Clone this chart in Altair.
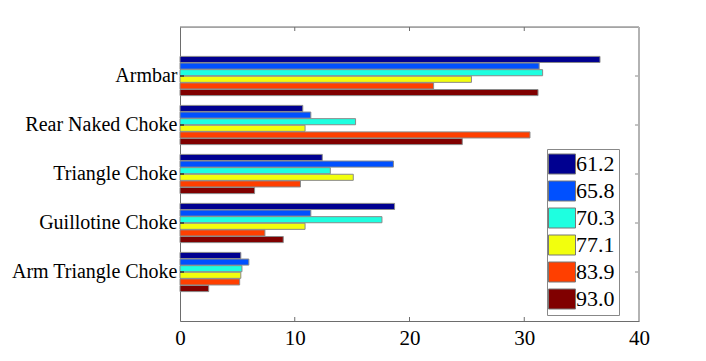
import altair as alt
import pandas as pd

categories = ["Armbar", "Rear Naked Choke", "Triangle Choke", "Guillotine Choke", "Arm Triangle Choke"]
series = ["61.2", "65.8", "70.3", "77.1", "83.9", "93.0"]
colors = ["#000090", "#0050FF", "#1EFFE0", "#F2FF0D", "#FF3F00", "#800000"]

v_612 = [36.6, 10.7, 12.4, 18.7, 5.3]
v_658 = [31.3, 11.4, 18.6, 11.4, 6.0]
v_703 = [31.6, 15.3, 13.1, 17.6, 5.4]
v_771 = [25.4, 10.9, 15.1, 10.9, 5.3]
v_839 = [22.1, 30.5, 10.5, 7.4, 5.2]
v_930 = [31.2, 24.6, 6.5, 9.0, 2.5]

x_ticks = [0, 10, 20, 30, 40]

all_vals = [v_612, v_658, v_703, v_771, v_839, v_930]
rows = []
for s, vals in zip(series, all_vals):
    for c, v in zip(categories, vals):
        rows.append({"cat": c, "series": s, "value": v})
df = pd.DataFrame(rows)
cat_df = pd.DataFrame({"cat": categories})
tick_df = pd.DataFrame({"t": x_ticks[1:-1]})

FONT = "'Times New Roman', 'Liberation Serif', Times, serif"
W, H = 459, 294

yscale = alt.Scale(domain=categories, paddingInner=0.2, paddingOuter=0.6)
xscale = alt.Scale(domain=[0, 40], nice=False)

bars = alt.Chart(df).mark_bar(stroke="#8a8a8a", strokeWidth=1).encode(
    x=alt.X("value:Q", scale=xscale,
            axis=alt.Axis(values=x_ticks, title=None, ticks=False, grid=False,
                          labelFont=FONT, labelFontSize=21, labelColor="black",
                          labelPadding=6, domainColor="#6d6d6d", labelFlush=False)),
    y=alt.Y("cat:N", scale=yscale, sort=categories,
            axis=alt.Axis(title=None, ticks=False, labelFont=FONT, labelFontSize=20,
                          labelColor="black", labelPadding=3, domainColor="#6d6d6d",
                          labelLimit=300)),
    yOffset=alt.YOffset("series:N", sort=series,
                        scale=alt.Scale(paddingInner=0.08, paddingOuter=0)),
    color=alt.Color("series:N", sort=series,
                    scale=alt.Scale(domain=series, range=colors),
                    legend=alt.Legend(title=None, orient="none", legendX=367, legendY=122,
                                      strokeColor="#888888", fillColor="white", padding=4,
                                      symbolType="M-1.35,-1L1.35,-1L1.35,1L-1.35,1Z",
                                      symbolSize=400, symbolStrokeColor="#777777",
                                      symbolStrokeWidth=1, symbolOpacity=1,
                                      labelFont=FONT, labelFontSize=22, labelColor="black",
                                      labelExpr="datum.label + '\u00a0\u00a0'",
                                      labelOffset=3, rowPadding=3, labelLimit=200)),
)

left_ticks = alt.Chart(cat_df).mark_rule(color="black", strokeWidth=1).encode(
    y=alt.Y("cat:N", scale=yscale, sort=categories, bandPosition=0.5),
    x=alt.value(0), x2=alt.value(4))
right_ticks = alt.Chart(cat_df).mark_rule(color="#8a8a8a", strokeWidth=1).encode(
    y=alt.Y("cat:N", scale=yscale, sort=categories, bandPosition=0.5),
    x=alt.value(W - 4), x2=alt.value(W))
bottom_ticks = alt.Chart(tick_df).mark_rule(color="#6d6d6d", strokeWidth=1).encode(
    x=alt.X("t:Q", scale=xscale), y=alt.value(H), y2=alt.value(H - 4))
top_ticks = alt.Chart(tick_df).mark_rule(color="#6d6d6d", strokeWidth=1).encode(
    x=alt.X("t:Q", scale=xscale), y=alt.value(0), y2=alt.value(4))
top_border = alt.Chart(cat_df.head(1)).mark_rule(color="#6d6d6d", strokeWidth=1).encode(
    x=alt.value(0), x2=alt.value(W), y=alt.value(0))
right_border = alt.Chart(cat_df.head(1)).mark_rule(color="#b3b3b3", strokeWidth=2).encode(
    x=alt.value(W), y=alt.value(0), y2=alt.value(H))

chart = alt.layer(bars, left_ticks, right_ticks, bottom_ticks, top_ticks, top_border, right_border).properties(
    width=W, height=H,
    autosize=alt.AutoSizeParams(type="none"),
    padding={"left": 172, "top": 19, "right": 59, "bottom": 32},
).configure_view(stroke=None).configure(background="white")

chart.save("out.html", embed_options={"renderer": "svg", "actions": False})
